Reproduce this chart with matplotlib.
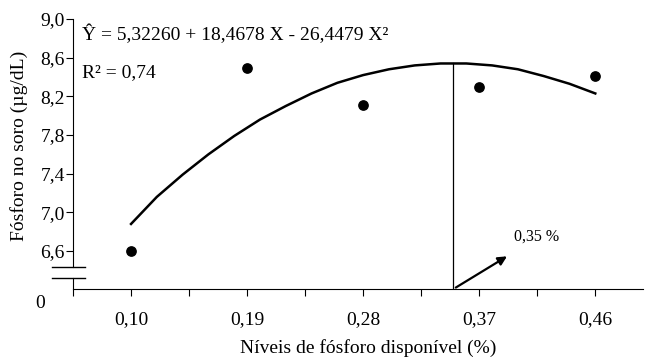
import numpy as np
import matplotlib.pyplot as plt
import matplotlib.transforms as mtransforms

plt.rcParams['font.family'] = ['Liberation Serif', 'DejaVu Serif']

# observed means
niveis = [0.10, 0.19, 0.28, 0.37, 0.46]
fosforo = [6.60, 8.49, 8.11, 8.30, 8.41]

# fitted curve
curva_x = [0.10, 0.12, 0.14, 0.16, 0.18, 0.20, 0.22, 0.24, 0.26, 0.28,
           0.30, 0.32, 0.34, 0.36, 0.38, 0.40, 0.42, 0.44, 0.46]
curva_y = [6.88, 7.16, 7.39, 7.60, 7.79, 7.96, 8.10, 8.23, 8.34, 8.42,
           8.48, 8.52, 8.54, 8.54, 8.52, 8.48, 8.41, 8.33, 8.23]

x_ticks = [0.10, 0.19, 0.28, 0.37, 0.46]
x_labels = ['0,10', '0,19', '0,28', '0,37', '0,46']
y_ticks = [6.6, 7.0, 7.4, 7.8, 8.2, 8.6, 9.0]
y_labels = ['6,6', '7,0', '7,4', '7,8', '8,2', '8,6', '9,0']
x_otimo = 0.35
y_otimo = 8.545

fig = plt.figure(figsize=(6.45, 3.6), dpi=100)
ax = fig.add_axes([0.1132, 0.1972, 0.8837, 0.75])

ax.plot(curva_x, curva_y, color='black', lw=1.8)
ax.scatter(niveis, fosforo, s=45, color='black', zorder=3)

ymin, ymax = 6.207, 9.0
ax.set_xlim(0.055, 0.497)
ax.set_ylim(ymin, ymax)

ax.set_xticks(x_ticks)
ax.set_xticklabels(x_labels)
ax.set_xticks(np.arange(0.055, 0.50, 0.045), minor=True)
ax.set_yticks(y_ticks)
ax.set_yticklabels(y_labels)
ax.tick_params(axis='both', which='both', direction='out', length=5,
               width=0.8, labelsize=14)
ax.tick_params(axis='x', pad=11)
ax.tick_params(axis='y', pad=1)

for s in ['top', 'right']:
    ax.spines[s].set_visible(False)
ax.spines['left'].set_bounds(6.435, ymax)
ax.spines['left'].set_linewidth(0.8)
ax.spines['bottom'].set_linewidth(0.8)

# axis break
trans = mtransforms.blended_transform_factory(ax.transAxes, ax.transData)
ax.plot([0, 0], [ymin, 6.321], color='black', lw=0.8, transform=trans, clip_on=False)
for yb in [6.435, 6.321]:
    ax.plot([-0.0368, 0.021], [yb, yb], color='black', lw=1.0,
            transform=trans, clip_on=False)
ax.text(-0.058, 6.06, '0', transform=trans, fontsize=14, ha='center', va='center')

# optimum line and arrow
ax.plot([x_otimo, x_otimo], [ymin, y_otimo], color='black', lw=0.9)
ax.annotate('', xy=(0.3934, 6.56), xytext=(x_otimo, ymin),
            arrowprops=dict(arrowstyle='-|>', color='black', lw=1.6,
                            mutation_scale=13))
ax.text(0.3973, 6.745, '0,35 %', fontsize=11.5, ha='left', va='center')

ax.text(0.062, 8.84, 'Ŷ = 5,32260 + 18,4678 X - 26,4479 X²', fontsize=14,
        ha='left', va='center')
ax.text(0.062, 8.45, 'R² = 0,74', fontsize=14, ha='left', va='center')

ax.set_xlabel('Níveis de fósforo disponível (%)', fontsize=14)
ax.xaxis.set_label_coords(0.518, -0.185)
ax.set_ylabel('Fósforo no soro (µg/dL)', fontsize=14)
ax.yaxis.set_label_coords(-0.079, 0.53)

fig.savefig('out.png', dpi=100)
